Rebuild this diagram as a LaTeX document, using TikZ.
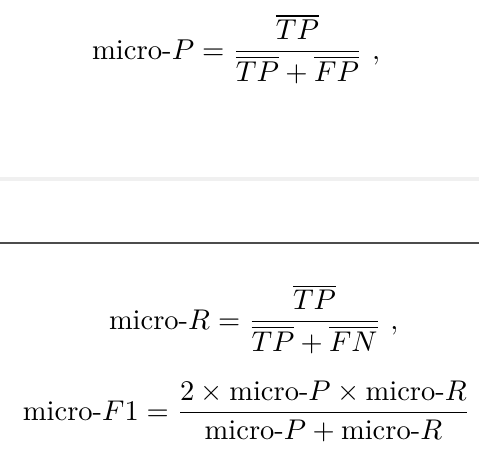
\documentclass[tikz,border=0pt]{standalone}
\usepackage{amsmath}
\usepackage{graphicx}
\tikzset{
  eq/.style={anchor=base west, inner sep=0pt, outer sep=0pt},
  lightrule/.style={fill=black!6},
  darkrule/.style={fill=black!70}
}
\newcommand{\mc}{\text{micro-}}
\begin{document}
\begin{tikzpicture}[x=1pt,y=-1pt]
  \useasboundingbox (0,0) rectangle (479,455);
  \fill[white] (0,0) rectangle (479,455);
  \node[eq] (eqP) at (92,59) {\scalebox{2.87}{$\displaystyle \mc P=\frac{\overline{TP}}{\overline{TP}+\overline{FP}}\ ,$}};
  \fill[lightrule] (0,177) rectangle (479,181);
  \fill[darkrule] (0,241.5) rectangle (479,243.5);
  \node[eq] (eqR) at (109,329) {\scalebox{2.85}{$\displaystyle \mc R=\frac{\overline{TP}}{\overline{TP}+\overline{FN}}\ ,$}};
  \node[eq] (eqF) at (23,420) {\scalebox{2.85}{$\displaystyle \mc F1=\frac{2\times\mc P\times\mc R}{\mc P+\mc R}$}};
\end{tikzpicture}
\end{document}
